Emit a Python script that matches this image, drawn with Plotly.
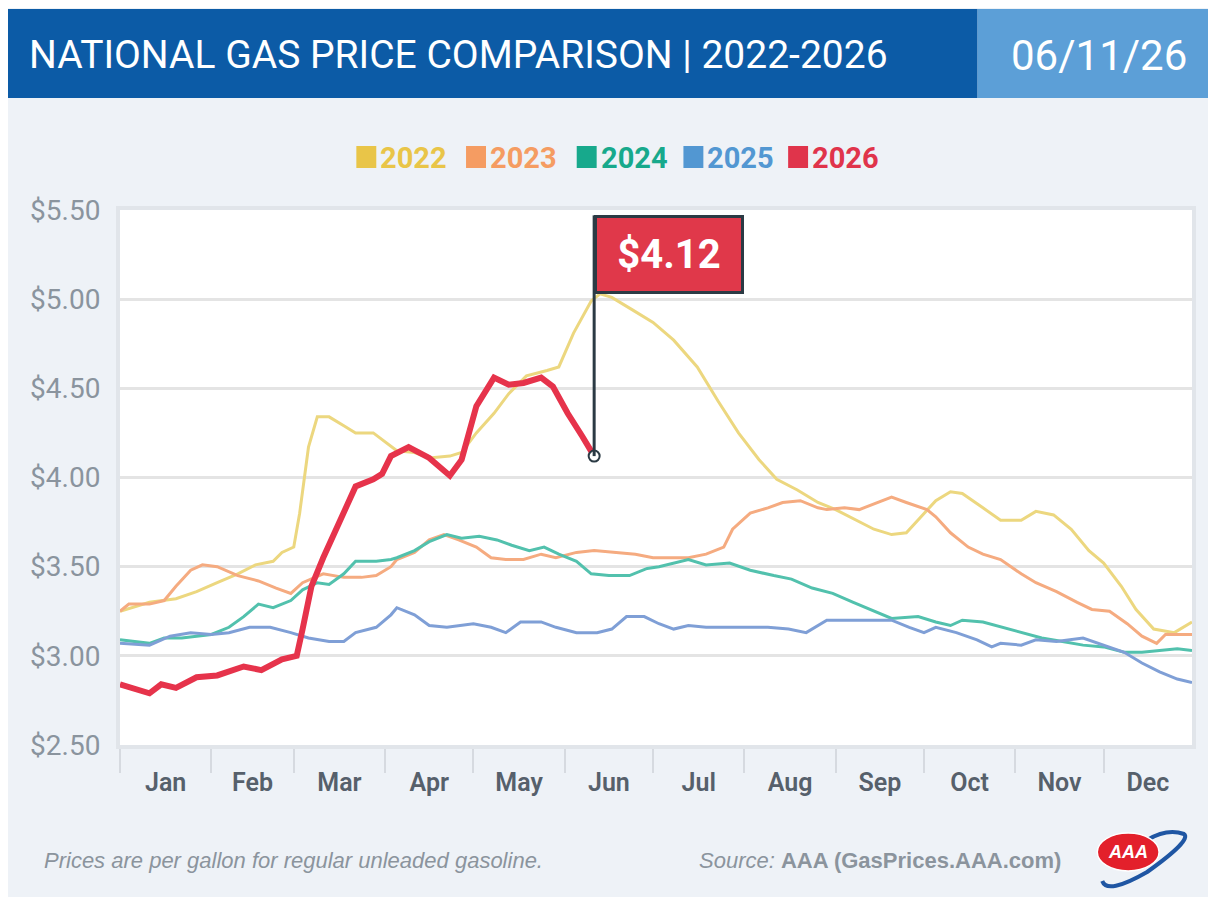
import pandas as pd
import plotly.graph_objects as go

# %% Data (day of year, price per gallon)
days_2022 = [0, 10, 19, 26, 33, 40, 46, 52, 55, 59, 61, 64, 67, 71, 76, 80, 86, 94, 100, 105, 112, 116, 121, 127,
             132, 138, 145, 149, 154, 160, 163, 167, 174, 181, 188, 196, 203, 210, 217, 223, 230, 237, 243, 250,
             256, 262, 267, 272, 277, 282, 286, 293, 299, 306, 311, 317, 323, 329, 334, 340, 345, 351, 358, 364]
price_2022 = [3.25, 3.30, 3.32, 3.36, 3.41, 3.46, 3.51, 3.53, 3.58, 3.61, 3.80, 4.17, 4.34, 4.34, 4.29, 4.25, 4.25,
              4.15, 4.14, 4.11, 4.12, 4.14, 4.25, 4.36, 4.47, 4.57, 4.60, 4.62, 4.81, 4.99, 5.03, 5.01, 4.94, 4.87,
              4.77, 4.62, 4.43, 4.25, 4.10, 3.99, 3.93, 3.86, 3.82, 3.76, 3.71, 3.68, 3.69, 3.78, 3.87, 3.92, 3.91,
              3.83, 3.76, 3.76, 3.81, 3.79, 3.71, 3.59, 3.52, 3.39, 3.26, 3.15, 3.13, 3.19]

days_2023 = [0, 3, 10, 15, 19, 24, 28, 33, 40, 47, 53, 58, 62, 69, 76, 82, 87, 92, 94, 100, 105, 110, 115, 121, 126,
             131, 137, 143, 148, 155, 161, 167, 175, 181, 193, 199, 205, 208, 214, 220, 225, 231, 237, 240, 246,
             251, 257, 262, 267, 274, 277, 282, 288, 293, 299, 306, 311, 318, 325, 330, 336, 342, 347, 352, 355, 364]
price_2023 = [3.25, 3.29, 3.29, 3.31, 3.39, 3.48, 3.51, 3.50, 3.45, 3.42, 3.38, 3.35, 3.41, 3.46, 3.44, 3.44, 3.45,
              3.50, 3.54, 3.58, 3.65, 3.68, 3.65, 3.61, 3.55, 3.54, 3.54, 3.57, 3.55, 3.58, 3.59, 3.58, 3.57, 3.55,
              3.55, 3.57, 3.61, 3.71, 3.80, 3.83, 3.86, 3.87, 3.83, 3.82, 3.83, 3.82, 3.86, 3.89, 3.86, 3.82, 3.78,
              3.69, 3.61, 3.57, 3.54, 3.46, 3.41, 3.36, 3.30, 3.26, 3.25, 3.18, 3.11, 3.07, 3.12, 3.12]

days_2024 = [0, 10, 15, 21, 31, 37, 42, 47, 52, 58, 62, 67, 71, 76, 80, 87, 92, 94, 100, 105, 111, 116, 122, 128,
             133, 139, 144, 149, 155, 160, 166, 173, 179, 183, 193, 199, 207, 214, 222, 228, 235, 242, 249, 256,
             262, 271, 277, 282, 286, 293, 300, 307, 313, 320, 327, 334, 341, 347, 353, 359, 364]
price_2024 = [3.09, 3.07, 3.10, 3.10, 3.12, 3.16, 3.22, 3.29, 3.27, 3.31, 3.37, 3.41, 3.40, 3.46, 3.53, 3.53, 3.54,
              3.55, 3.59, 3.64, 3.68, 3.66, 3.67, 3.65, 3.62, 3.59, 3.61, 3.57, 3.53, 3.46, 3.45, 3.45, 3.49, 3.50,
              3.54, 3.51, 3.52, 3.48, 3.45, 3.43, 3.38, 3.35, 3.30, 3.25, 3.21, 3.22, 3.19, 3.17, 3.20, 3.19, 3.16,
              3.13, 3.10, 3.08, 3.06, 3.05, 3.02, 3.02, 3.03, 3.04, 3.03]

days_2025 = [0, 10, 17, 24, 31, 37, 44, 51, 58, 64, 71, 76, 80, 87, 92, 94, 100, 105, 111, 115, 120, 126, 131, 136,
             143, 148, 155, 162, 167, 172, 178, 183, 188, 193, 199, 206, 213, 220, 227, 233, 240, 248, 256, 262,
             268, 273, 277, 284, 291, 296, 299, 306, 311, 318, 327, 334, 341, 347, 353, 359, 364]
price_2025 = [3.07, 3.06, 3.11, 3.13, 3.12, 3.13, 3.16, 3.16, 3.13, 3.10, 3.08, 3.08, 3.13, 3.16, 3.23, 3.27, 3.23,
              3.17, 3.16, 3.17, 3.18, 3.16, 3.13, 3.19, 3.19, 3.16, 3.13, 3.13, 3.15, 3.22, 3.22, 3.18, 3.15, 3.17,
              3.16, 3.16, 3.16, 3.16, 3.15, 3.13, 3.20, 3.20, 3.20, 3.20, 3.16, 3.13, 3.16, 3.13, 3.09, 3.05, 3.07,
              3.06, 3.09, 3.08, 3.10, 3.06, 3.02, 2.96, 2.91, 2.87, 2.85]

days_2026 = [0, 10, 14, 19, 26, 33, 42, 48, 55, 60, 62, 65, 69, 75, 80, 86, 89, 92, 98, 105, 112, 116, 121, 127,
             132, 137, 143, 147, 152, 157, 161]
price_2026 = [2.84, 2.79, 2.84, 2.82, 2.88, 2.89, 2.94, 2.92, 2.98, 3.00, 3.15, 3.39, 3.55, 3.76, 3.95, 3.99, 4.02,
              4.12, 4.17, 4.11, 4.01, 4.10, 4.40, 4.56, 4.52, 4.53, 4.56, 4.51, 4.36, 4.23, 4.12]

years = ['2022', '2023', '2024', '2025', '2026']
line_colors = ['#ecd77f', '#f5ab80', '#52c1ad', '#7f9fd6', '#e6334b']
legend_colors = ['#e9c548', '#f59c62', '#17a98c', '#5297d2', '#e0344b']
y_ticks = [2.5, 3.0, 3.5, 4.0, 4.5, 5.0, 5.5]
y_labels = [f'${v:.2f}' for v in y_ticks]

series = {
    '2022': (days_2022, price_2022),
    '2023': (days_2023, price_2023),
    '2024': (days_2024, price_2024),
    '2025': (days_2025, price_2025),
    '2026': (days_2026, price_2026),
}

jan1 = pd.Timestamp('2026-01-01')


def to_dates(days):
    return jan1 + pd.to_timedelta(days, unit='D')


# %% Layout helpers (reference pixel -> paper); page body adds an 8px margin
OFF = 8
W, H = 1200, 889
ML, MR, MT, MB = 112, 13, 202, 152
PW, PH = W - ML - MR, H - MT - MB


def fx(px):
    return (px - OFF - ML) / PW


def fy(py):
    return (H - MB - (py - OFF)) / PH


head = 'Roboto, Liberation Sans, sans-serif'
sans = 'Liberation Sans, Arial, sans-serif'

fig = go.Figure()

for yr, col in zip(years, line_colors):
    d, p = series[yr]
    fig.add_trace(go.Scatter(
        x=to_dates(d), y=p, mode='lines', name=yr, showlegend=False,
        line=dict(color=col, width=6 if yr == '2026' else 3),
    ))

last_date = to_dates(days_2026)[-1]
last_price = price_2026[-1]

fig.add_trace(go.Scatter(x=[last_date], y=[last_price], mode='markers', showlegend=False,
                         marker=dict(size=11, color='white', line=dict(color='#2b3a44', width=2))))

shapes = []
# header bands
shapes.append(dict(type='rect', xref='paper', yref='paper', x0=fx(6), x1=fx(980), y0=fy(98), y1=fy(9),
                   fillcolor='#0c5ba6', line_width=0, layer='below'))
shapes.append(dict(type='rect', xref='paper', yref='paper', x0=fx(980), x1=fx(1216), y0=fy(98), y1=fy(9),
                   fillcolor='#5c9fd7', line_width=0, layer='below'))

# flag pole
shapes.append(dict(type='line', xref='x', yref='y', x0=last_date, x1=last_date, y0=last_price, y1=5.47,
                   line=dict(color='#2b3a44', width=3), layer='above'))

# legend squares
leg_x = [357, 467, 578, 685, 790]
for lx, col in zip(leg_x, legend_colors):
    shapes.append(dict(type='rect', xref='paper', yref='paper', x0=fx(lx), x1=fx(lx + 20),
                       y0=fy(168), y1=fy(146), fillcolor=col, line_width=0))

# AAA logo
shapes.append(dict(type='path', xref='paper', yref='paper',
                   path=f'M {fx(1105)},{fy(881)} Q {fx(1110)},{fy(895)} {fx(1150)},{fy(872)} '
                        f'Q {fx(1195)},{fy(840)} {fx(1187)},{fy(834)} Q {fx(1170)},{fy(828)} {fx(1150)},{fy(840)}',
                   line=dict(color='#1f56a3', width=4)))
shapes.append(dict(type='circle', xref='paper', yref='paper', x0=fx(1100), x1=fx(1162), y0=fy(871), y1=fy(833),
                   fillcolor='#e3202b', line=dict(color='white', width=1.5)))

annotations = [
    dict(x=last_date, y=5.47, xref='x', yref='y', xanchor='left', yanchor='top',
         text=f'<b>${last_price:.2f}</b>', showarrow=False, width=142, height=71,
         bgcolor='#e0384a', bordercolor='#2b3a44', borderwidth=3,
         font=dict(family=head, size=40, color='white')),
    dict(text='NATIONAL GAS PRICE COMPARISON | 2022-2026', x=fx(27), y=fy(55), xref='paper', yref='paper',
         xanchor='left', yanchor='middle', showarrow=False, font=dict(family=head, size=39, color='white')),
    dict(text='06/11/26', x=fx(1102), y=fy(55), xref='paper', yref='paper', xanchor='center', yanchor='middle',
         showarrow=False, font=dict(family=head, size=42, color='white')),
    dict(text='<i>Prices are per gallon for regular unleaded gasoline.</i>', x=fx(42), y=fy(860),
         xref='paper', yref='paper', xanchor='left', yanchor='middle', showarrow=False,
         font=dict(family=sans, size=22, color='#8b949d')),
    dict(text='<i>Source:</i> <b>AAA (GasPrices.AAA.com)</b>', x=fx(1066), y=fy(860),
         xref='paper', yref='paper', xanchor='right', yanchor='middle', showarrow=False,
         font=dict(family=sans, size=22, color='#8b949d')),
    dict(text='<b><i>AAA</i></b>', x=fx(1131), y=fy(852), xref='paper', yref='paper', xanchor='center',
         yanchor='middle', showarrow=False, font=dict(family=sans, size=18, color='white')),
]
for lx, yr, col in zip(leg_x, years, legend_colors):
    annotations.append(dict(text=f'<b>{yr}</b>', x=fx(lx + 22), y=fy(158), xref='paper', yref='paper',
                            xanchor='left', yanchor='middle', showarrow=False,
                            font=dict(family=head, size=29, color=col)))

fig.update_layout(
    width=W, height=H,
    margin=dict(l=ML, r=MR, t=MT, b=MB),
    paper_bgcolor='#eef2f7',
    plot_bgcolor='white',
    shapes=shapes,
    annotations=annotations,
    showlegend=False,
)

fig.update_xaxes(
    type='date', range=['2026-01-01', '2026-12-31'], dtick='M1', tickformat='%b', ticklabelmode='period',
    ticks='outside', ticklen=24, tickwidth=2, tickcolor='#d6dae0', showgrid=False,
    showline=True, linecolor='#e1e5ea', linewidth=4, mirror=True, ticklabelstandoff=-12,
    tickfont=dict(family=head, size=25, color='#56606b', weight=600), fixedrange=True,
)
fig.update_yaxes(
    range=[2.5, 5.5], tickvals=y_ticks, ticktext=y_labels,
    showgrid=True, gridcolor='#e4e4e4', gridwidth=3, zeroline=False,
    showline=True, linecolor='#e1e5ea', linewidth=4, mirror=True,
    ticks='', ticklabelstandoff=10,
    tickfont=dict(family=head, size=28, color='#8a949e'), fixedrange=True,
)

fig.write_html("out.html")
